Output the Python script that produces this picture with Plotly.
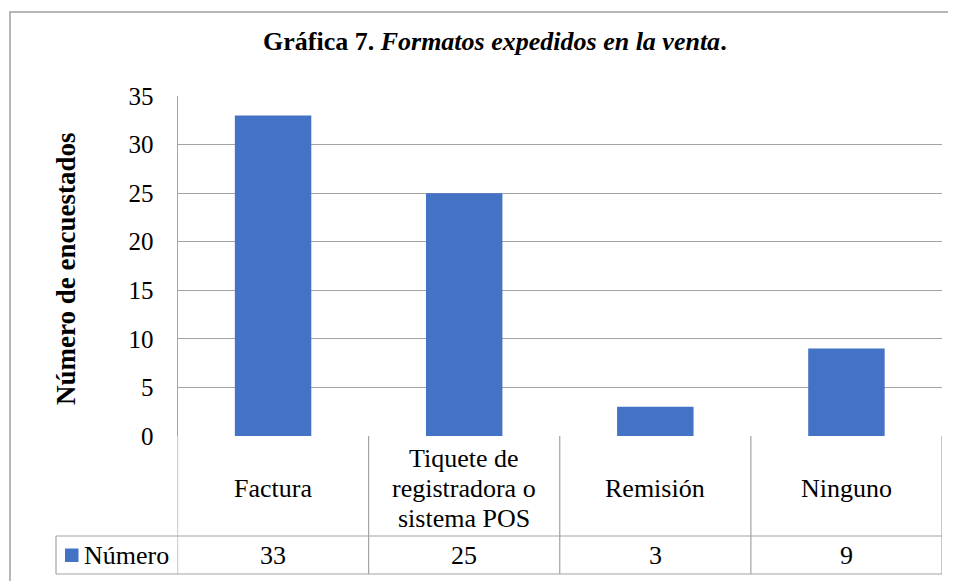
import plotly.graph_objects as go

# data
categorias = ["Factura", "Tiquete de<br>registradora o<br>sistema POS", "Remisión", "Ninguno"]
valores = [33, 25, 3, 9]
serie = "Número"
y_ticks = [0, 5, 10, 15, 20, 25, 30, 35]

W, H = 956, 581
OX, OY = 8, 8          # page body margin of the html page
FONT = "Liberation Serif"
GRID = "#a3a3a3"
BLUE = "#4472C4"

def px(x): return (x - OX) / W
def py(y): return 1 - (y - OY) / H

# plot area in page pixels
L, R, T, B = 177.5, 942, 96, 436
ROW1, ROW2 = 536, 574

fig = go.Figure()
fig.add_trace(go.Bar(x=list(range(len(categorias))), y=valores, width=0.4,
                     marker=dict(color=BLUE, line=dict(width=0)),
                     name=serie, showlegend=False, hoverinfo="skip"))

shapes = []
# outer frame of the chart
shapes.append(dict(type="rect", xref="paper", yref="paper",
                   x0=px(10), x1=px(990), y0=py(12), y1=py(620),
                   line=dict(color="#a0a0a0", width=1.5)))
# data table: vertical lines at category edges
n = len(categorias)
for i in range(n + 1):
    shapes.append(dict(type="line", xref="x", yref="paper",
                       x0=i - 0.5, x1=i - 0.5, y0=py(B), y1=py(ROW2),
                       line=dict(color=GRID, width=1.2)))
# horizontal lines of table
for yy in (ROW1, ROW2):
    shapes.append(dict(type="line", xref="paper", yref="paper",
                       x0=px(56), x1=px(R), y0=py(yy), y1=py(yy),
                       line=dict(color=GRID, width=1.2)))
# legend cell left edge
shapes.append(dict(type="line", xref="paper", yref="paper",
                   x0=px(56), x1=px(56), y0=py(ROW1), y1=py(ROW2),
                   line=dict(color=GRID, width=1.2)))
# legend key
shapes.append(dict(type="rect", xref="paper", yref="paper",
                   x0=px(65), x1=px(78.5), y0=py(548.5), y1=py(562),
                   fillcolor=BLUE, line=dict(width=0)))

tabla = dict(family=FONT, size=26, color="#000")
annotations = []
for i, (c, v) in enumerate(zip(categorias, valores)):
    # one annotation per line so the line spacing matches the table (30 px)
    lineas = c.split("<br>")
    for j, ln in enumerate(lineas):
        yc = 488 + (j - (len(lineas) - 1) / 2) * 30
        annotations.append(dict(x=i, y=py(yc), xref="x", yref="paper", text=ln,
                                showarrow=False, xanchor="center", yanchor="middle",
                                font=tabla))
    annotations.append(dict(x=i, y=py(555), xref="x", yref="paper", text=str(v),
                            showarrow=False, xanchor="center", yanchor="middle",
                            font=tabla))
annotations.append(dict(x=px(82), y=py(555), xref="paper", yref="paper", text=serie,
                        showarrow=False, xanchor="left", yanchor="middle", font=tabla))
annotations.append(dict(x=px(495), y=py(41), xref="paper", yref="paper",
                        text="<b>Gráfica 7. <i>Formatos expedidos en la venta</i>.</b>",
                        showarrow=False, xanchor="center", yanchor="middle",
                        font=dict(family=FONT, size=26, color="#000")))
annotations.append(dict(x=px(66), y=py(269), xref="paper", yref="paper",
                        text="<b>Número de encuestados</b>", textangle=-90,
                        showarrow=False, xanchor="center", yanchor="middle",
                        font=dict(family=FONT, size=27, color="#000")))

fig.update_layout(
    width=W, height=H,
    margin=dict(l=0, r=0, t=0, b=0, autoexpand=False),
    paper_bgcolor="white", plot_bgcolor="white",
    xaxis=dict(domain=[px(L), px(R)], range=[-0.5, n - 0.5], automargin=False,
               showticklabels=False, showgrid=False, zeroline=False,
               showline=False, fixedrange=True),
    yaxis=dict(domain=[py(B), py(T)], range=[0, 35], tickvals=y_ticks, automargin=False,
               showgrid=True, gridcolor=GRID, gridwidth=1.2,
               zeroline=False, showline=True, linecolor=GRID, linewidth=1.2,
               ticks="", ticklabelstandoff=18,
               tickfont=dict(family=FONT, size=25, color="#000")),
    shapes=shapes,
    annotations=annotations,
)

fig.write_html("out.html")
